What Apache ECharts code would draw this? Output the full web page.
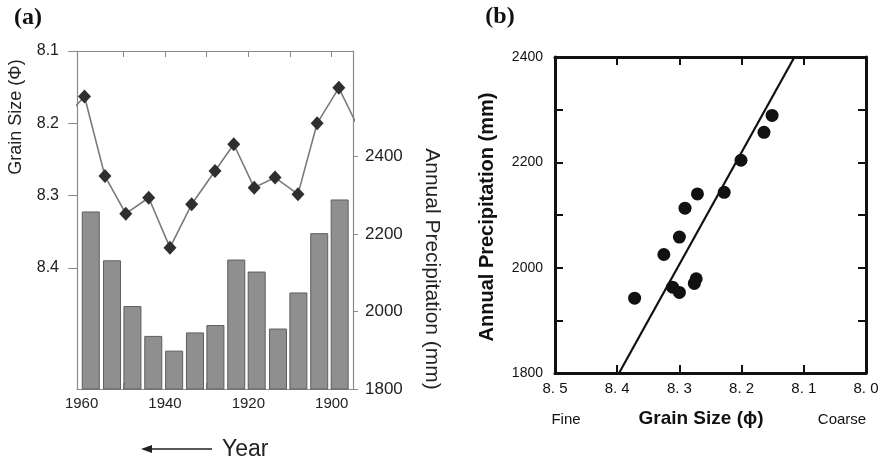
<!DOCTYPE html>
<html>
<head>
<meta charset="utf-8">
<script src="https://cdn.jsdelivr.net/npm/echarts@6/dist/echarts.min.js"></script>
<style>
html,body{margin:0;padding:0;background:#fff;}
#c{width:884px;height:465px;}
</style>
</head>
<body>
<div id="c"></div>
<script>
// ---- Panel (a) data ----
const barYears = [1957.8, 1952.7, 1947.8, 1942.8, 1937.8, 1932.8, 1927.9, 1922.9, 1918.0, 1912.9, 1908.0, 1903.0, 1898.1];
const barPrecip = [2258, 2132, 2014, 1937, 1899, 1946, 1965, 2134, 2103, 1956, 2049, 2202, 2289];
const grainYears = [1964.3, 1959.3, 1954.4, 1949.4, 1943.9, 1938.8, 1933.6, 1928.0, 1923.5, 1918.6, 1913.6, 1908.1, 1903.5, 1898.3, 1893.3];
const grainSize = [8.194, 8.163, 8.273, 8.325, 8.303, 8.372, 8.312, 8.266, 8.229, 8.289, 8.275, 8.298, 8.200, 8.151, 8.210];
const yearLabels = [1960, 1940, 1920, 1900];
const yearTicks = [1950, 1940, 1930, 1920, 1910, 1900];
const grainLabels = [8.1, 8.2, 8.3, 8.4];
const precipLabels = [1800, 2000, 2200, 2400];

// ---- Panel (b) data ----
const scatterGrain = [8.372, 8.325, 8.300, 8.291, 8.271, 8.228, 8.201, 8.164, 8.151, 8.311, 8.300, 8.276, 8.273];
const scatterPrecip = [1942, 2025, 2058, 2113, 2140, 2143, 2204, 2257, 2289, 1963, 1953, 1970, 1979];
const fitGrain = [8.397, 8.115];
const fitPrecip = [1800, 2400];

const F = "'Liberation Sans', Arial, sans-serif";
const FN = "'Liberation Sans Narrow', 'Arial Narrow', 'Liberation Sans', sans-serif";
const gA = '#8a8a8a';

const chart = echarts.init(document.getElementById('c'), null, {renderer: 'canvas'});

const lineData = grainYears.map((y, i) => {
  const d = {value: [y, grainSize[i]]};
  if (i === 0 || i === grainYears.length - 1) d.symbol = 'none';
  return d;
});

const option = {
  backgroundColor: '#ffffff',
  animation: false,
  textStyle: {fontFamily: F},
  grid: [
    {left: 77, top: 51, width: 276, height: 338, show: false},
    {left: 555, top: 57, width: 311, height: 316, show: false}
  ],
  xAxis: [
    { // 0: panel a bottom
      gridIndex: 0, type: 'value', inverse: true, min: 1894.9, max: 1961.1,
      axisLine: {show: true, lineStyle: {color: gA, width: 1.2}},
      axisTick: {show: true, inside: true, length: 6, customValues: yearTicks, lineStyle: {color: gA}},
      axisLabel: {show: true, customValues: yearLabels, fontSize: 15, color: '#222', margin: 7, fontFamily: F,
        formatter: v => String(v)},
      splitLine: {show: false}
    },
    { // 1: panel a top
      gridIndex: 0, type: 'value', inverse: true, min: 1894.9, max: 1961.1, position: 'top',
      axisLine: {show: true, lineStyle: {color: gA, width: 1.2}},
      axisTick: {show: true, inside: true, length: 6, customValues: yearTicks, lineStyle: {color: gA}},
      axisLabel: {show: false},
      splitLine: {show: false}
    },
    { // 2: panel b bottom
      gridIndex: 1, type: 'value', inverse: true, min: 8.0, max: 8.5, interval: 0.1,
      axisLine: {show: true, lineStyle: {color: '#111', width: 3}},
      axisTick: {show: true, inside: true, length: 8, lineStyle: {color: '#111', width: 2}},
      axisLabel: {show: true, fontSize: 15, color: '#111', margin: 8, fontFamily: FN,
        formatter: v => v.toFixed(1).replace('.', '. ')},
      splitLine: {show: false}
    },
    { // 3: panel b top
      gridIndex: 1, type: 'value', inverse: true, min: 8.0, max: 8.5, interval: 0.1, position: 'top',
      axisLine: {show: true, lineStyle: {color: '#111', width: 3}},
      axisTick: {show: true, inside: true, length: 8, lineStyle: {color: '#111', width: 2}},
      axisLabel: {show: false},
      splitLine: {show: false}
    }
  ],
  yAxis: [
    { // 0: panel a left grain size
      gridIndex: 0, type: 'value', inverse: true, min: 8.1, max: 8.5675, position: 'left',
      axisLine: {show: true, lineStyle: {color: gA, width: 1.2}},
      axisTick: {show: true, inside: false, length: 9, customValues: grainLabels, lineStyle: {color: gA}},
      axisLabel: {show: true, customValues: grainLabels, fontSize: 16, color: '#222', margin: 18, fontFamily: F,
        formatter: v => v.toFixed(1)},
      splitLine: {show: false}
    },
    { // 1: panel a right precipitation
      gridIndex: 0, type: 'value', min: 1800, max: 2672, position: 'right',
      axisLine: {show: true, lineStyle: {color: gA, width: 1.2}},
      axisTick: {show: true, inside: false, length: 5, customValues: precipLabels, lineStyle: {color: gA}},
      axisLabel: {show: true, customValues: precipLabels, fontSize: 17, color: '#222', margin: 12, fontFamily: F,
        formatter: v => String(v)},
      splitLine: {show: false}
    },
    { // 2: panel b left
      gridIndex: 1, type: 'value', min: 1800, max: 2400, interval: 100, position: 'left',
      axisLine: {show: true, lineStyle: {color: '#111', width: 3}},
      axisTick: {show: true, inside: true, length: 8, lineStyle: {color: '#111', width: 2}},
      axisLabel: {show: true, fontSize: 14, color: '#111', margin: 12, fontFamily: FN,
        formatter: v => (v % 200 === 0 ? String(v) : '')},
      splitLine: {show: false}
    },
    { // 3: panel b right
      gridIndex: 1, type: 'value', min: 1800, max: 2400, interval: 100, position: 'right',
      axisLine: {show: true, lineStyle: {color: '#111', width: 3}},
      axisTick: {show: true, inside: true, length: 8, lineStyle: {color: '#111', width: 2}},
      axisLabel: {show: false},
      splitLine: {show: false}
    }
  ],
  series: [
    {
      type: 'bar', xAxisIndex: 0, yAxisIndex: 1, barWidth: 18,
      data: barYears.map((y, i) => [y, barPrecip[i]]),
      itemStyle: {color: '#8f8f8f', borderColor: '#5e5e5e', borderWidth: 1},
      z: 2
    },
    {
      type: 'line', xAxisIndex: 0, yAxisIndex: 0, clip: true,
      data: lineData,
      symbol: 'diamond', symbolSize: [13, 14],
      lineStyle: {color: '#7a7a7a', width: 1.6},
      itemStyle: {color: '#2f2f2f'},
      z: 3
    },
    {
      type: 'line', xAxisIndex: 2, yAxisIndex: 2, clip: true,
      data: fitGrain.map((g, i) => [g, fitPrecip[i]]),
      symbol: 'none',
      lineStyle: {color: '#111', width: 2.2},
      z: 3
    },
    {
      type: 'scatter', xAxisIndex: 2, yAxisIndex: 2,
      data: scatterGrain.map((g, i) => [g, scatterPrecip[i]]),
      symbol: 'circle', symbolSize: 13,
      itemStyle: {color: '#111', opacity: 1},
      z: 4
    }
  ],
  graphic: [
    {type: 'text', x: 28, y: 18, style: {text: '(a)', font: "bold 24px 'Liberation Serif', 'Times New Roman', serif", fill: '#111', textAlign: 'center', textVerticalAlign: 'middle'}},
    {type: 'text', x: 500, y: 17, style: {text: '(b)', font: "bold 24px 'Liberation Serif', 'Times New Roman', serif", fill: '#111', textAlign: 'center', textVerticalAlign: 'middle'}},
    {type: 'text', x: 16, y: 117, rotation: Math.PI / 2, style: {text: 'Grain Size (\u03A6)', font: "18px 'Liberation Sans', Arial, sans-serif", fill: '#222', textAlign: 'center', textVerticalAlign: 'middle'}},
    {type: 'text', x: 432, y: 269, rotation: -Math.PI / 2, style: {text: 'Annual Precipitation (mm)', font: "21px 'Liberation Sans', Arial, sans-serif", fill: '#222', textAlign: 'center', textVerticalAlign: 'middle'}},
    {type: 'text', x: 222, y: 450, style: {text: 'Year', font: "23px 'Liberation Sans', Arial, sans-serif", fill: '#222', textAlign: 'left', textVerticalAlign: 'middle'}},
    {type: 'line', shape: {x1: 150, y1: 449, x2: 212, y2: 449}, style: {stroke: '#222', lineWidth: 1.5}},
    {type: 'polygon', shape: {points: [[141, 449], [152, 445], [152, 453]]}, style: {fill: '#222'}},
    {type: 'text', x: 487, y: 217, rotation: Math.PI / 2, style: {text: 'Annual Precipitation (mm)', font: "bold 20px 'Liberation Sans', Arial, sans-serif", fill: '#111', textAlign: 'center', textVerticalAlign: 'middle'}},
    {type: 'text', x: 701, y: 419, style: {text: 'Grain Size (\u03D5)', font: "bold 19px 'Liberation Sans', Arial, sans-serif", fill: '#111', textAlign: 'center', textVerticalAlign: 'middle'}},
    {type: 'text', x: 566, y: 420, style: {text: 'Fine', font: "15px 'Liberation Sans', Arial, sans-serif", fill: '#111', textAlign: 'center', textVerticalAlign: 'middle'}},
    {type: 'text', x: 842, y: 420, style: {text: 'Coarse', font: "15px 'Liberation Sans', Arial, sans-serif", fill: '#111', textAlign: 'center', textVerticalAlign: 'middle'}}
  ]
};
chart.setOption(option);
</script>
</body>
</html>
